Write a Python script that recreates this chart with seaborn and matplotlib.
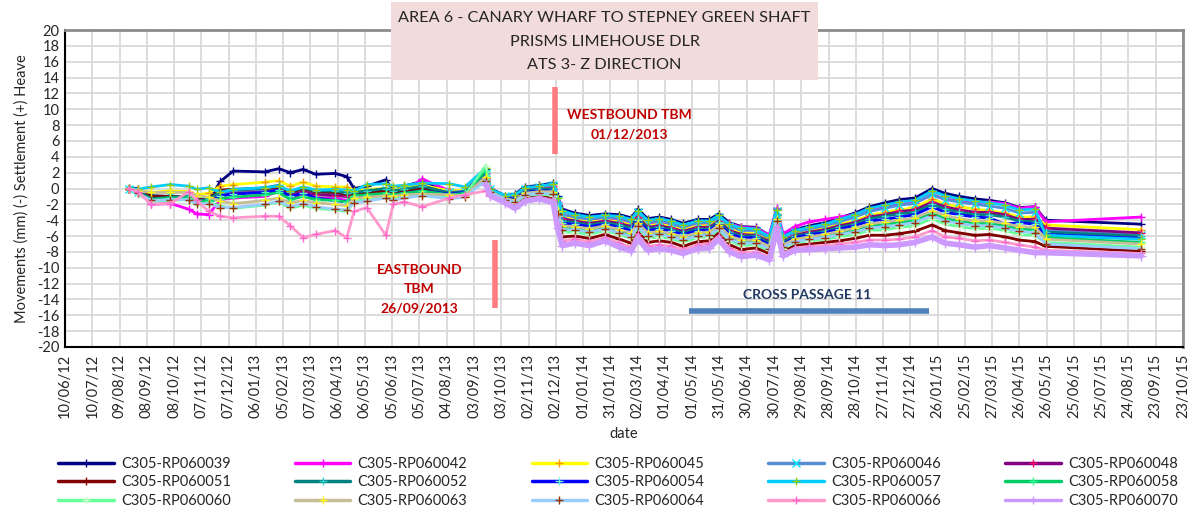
import matplotlib
matplotlib.use("Agg")
import matplotlib.pyplot as plt
from matplotlib.lines import Line2D
from matplotlib.patches import Rectangle
import numpy as np
import pandas as pd
import seaborn as sns

nan = np.nan

# Survey dates: sparse manual readings, then the automatic (ATS) period, then the last reading
DATES = [
    "2012-08-19", "2012-08-29", "2012-09-13", "2012-10-04", "2012-10-24", "2012-11-02",
    "2012-11-15", "2012-11-28", "2012-12-12", "2013-01-16", "2013-01-31", "2013-02-13",
    "2013-02-27", "2013-03-13", "2013-04-03", "2013-04-16", "2013-04-24", "2013-05-08",
    "2013-05-29", "2013-06-06", "2013-06-18", "2013-07-08", "2013-08-07", "2013-08-24",
    "2013-09-16",
    "2013-09-21", "2013-10-07", "2013-10-18", "2013-10-29", "2013-11-14", "2013-11-29",
    "2013-12-04", "2013-12-09", "2013-12-23", "2014-01-08", "2014-01-25", "2014-02-10",
    "2014-02-23", "2014-03-02", "2014-03-13", "2014-03-26", "2014-04-08", "2014-04-21",
    "2014-05-07", "2014-05-20", "2014-05-30", "2014-06-11", "2014-06-24", "2014-07-10",
    "2014-07-25", "2014-08-02", "2014-08-09", "2014-08-22", "2014-09-07", "2014-09-24",
    "2014-10-10", "2014-10-27", "2014-11-12", "2014-11-29", "2014-12-15", "2015-01-01",
    "2015-01-20", "2015-02-03", "2015-02-19", "2015-03-08", "2015-03-24", "2015-04-10",
    "2015-04-26", "2015-05-13", "2015-05-25", "2015-09-07",
]

# Vertical movement of each prism (mm)
RP060039 = [0.1, 0.0, -0.9, -1.0, -1.2, -1.6, -1.5, 0.9, 2.2, 2.1, 2.5, 2.0, 2.4, 1.8, 1.9, 1.5, 0.0, 0.3, 1.1, -0.3, 0.3, 0.9, -0.3, -0.4, 2.4,
            0.0, -0.9, -0.7, 0.2, 0.4, 0.7, -1.0, -2.6, -3.1, -3.4, -3.2, -3.3, -3.7, -2.6, -3.8, -3.6, -3.9, -4.4, -3.9, -3.9, -3.2, -4.3, -4.8,
            -4.9, -5.9, -2.6, -6.0, -5.2, -4.7, -4.3, -3.7, -3.1, -2.3, -1.8, -1.4, -1.2, 0.0, -0.6, -1.0, -1.3, -1.5, -1.8, -2.4, -2.3, -4.0, -4.5]
RP060042 = [0.0, -0.3, -2.0, -1.9, -2.6, -3.2, -3.3, -1.4, -1.2, -1.0, -0.3, -1.2, -0.7, -1.3, -1.2, -1.5, -0.9, -0.8, -0.5, -0.6, -0.3, 1.2, -0.3, -0.4, 2.0,
            -0.2, -1.1, -1.0, -0.1, 0.1, 0.3, -1.7, -3.4, -3.8, -4.1, -3.8, -4.0, -4.5, -3.3, -4.5, -4.3, -4.6, -5.1, -4.6, -4.6, -3.8, -4.4, -4.9,
            -5.0, -5.9, -2.5, -5.7, -4.8, -4.2, -3.9, -3.6, -3.3, -2.6, -2.3, -2.0, -1.8, -0.8, -1.3, -1.6, -1.8, -1.7, -1.9, -2.5, -2.3, -4.2, -3.6]
RP060045 = [0.0, -0.2, -0.5, -0.3, -0.4, -0.8, -0.6, 0.3, 0.5, 0.8, 1.0, 0.3, 0.8, 0.3, 0.2, 0.2, -0.3, -0.1, 0.0, -0.2, 0.1, 0.4, -0.3, -0.2, 1.6,
            -0.2, -1.1, -1.1, -0.2, 0.0, 0.2, -1.9, -3.6, -3.9, -4.2, -4.0, -4.2, -4.6, -3.4, -4.7, -4.5, -4.8, -5.2, -4.7, -4.7, -3.9, -5.1, -5.6,
            -5.7, -6.6, -3.2, -6.5, -5.8, -5.4, -5.0, -4.5, -4.1, -3.4, -3.0, -2.7, -2.4, -1.3, -2.0, -2.3, -2.6, -2.8, -3.1, -3.6, -3.6, -4.6, -5.2]
RP060046 = [0.0, -0.4, -1.2, -1.0, -1.1, -1.5, -1.4, -0.6, -0.4, -0.2, 0.0, -0.6, -0.2, -0.5, -0.6, -0.7, -0.6, -0.4, -0.2, -0.4, -0.2, 0.1, -0.5, -0.3, 1.9,
            -0.1, -1.0, -0.9, 0.0, 0.2, 0.4, -1.5, -3.2, -3.6, -3.9, -3.6, -3.8, -4.2, -3.0, -4.3, -4.1, -4.4, -4.9, -4.3, -4.3, -3.6, -4.7, -5.3,
            -5.3, -6.3, -2.9, -6.3, -5.5, -5.1, -4.7, -4.2, -3.6, -2.9, -2.5, -2.1, -1.9, -0.7, -1.4, -1.7, -2.0, -2.2, -2.5, -3.1, -3.0, -5.3, -5.9]
RP060048 = [0.0, -0.5, -1.3, -1.2, -1.3, -1.4, -1.5, -1.0, -0.6, -0.5, -0.1, -0.9, -0.4, -0.8, -0.9, -1.0, -0.8, -0.6, -0.3, -0.6, -0.4, 0.3, -0.6, -0.5, 1.3,
            -0.2, -1.1, -1.2, -0.3, -0.1, 0.0, -2.1, -3.8, -4.1, -4.4, -4.1, -4.4, -4.8, -3.6, -4.9, -4.7, -5.0, -5.4, -4.9, -4.9, -4.1, -5.3, -5.8,
            -5.9, -6.7, -3.3, -6.7, -5.9, -5.5, -5.2, -4.7, -4.3, -3.6, -3.3, -2.9, -2.7, -1.7, -2.3, -2.7, -3.0, -3.0, -3.3, -3.9, -3.9, -5.0, -5.6]
RP060051 = [0.0, -0.3, -1.0, -1.0, -1.1, -1.4, -1.3, -0.2, -0.1, 0.0, 0.2, -0.5, 0.0, -0.4, -0.5, -0.7, -0.8, -0.5, -0.3, -0.6, -0.3, 0.0, -0.6, -0.5, 1.2,
            -0.7, -1.6, -2.1, -1.2, -0.9, -1.2, -4.0, -6.1, -6.0, -6.3, -5.8, -6.4, -6.9, -5.4, -6.8, -6.6, -6.8, -7.3, -6.7, -6.6, -5.6, -7.1, -7.7,
            -7.5, -8.2, -4.6, -7.9, -7.2, -7.0, -6.8, -6.6, -6.3, -5.9, -5.9, -5.7, -5.4, -4.6, -5.3, -5.6, -5.9, -5.8, -6.1, -6.5, -6.7, -7.3, -7.9]
RP060052 = [0.0, -0.3, -1.3, -1.1, -1.0, -1.6, -1.3, -0.4, -0.2, 0.1, 0.4, -0.4, 0.1, -0.3, -0.3, -0.6, -0.5, -0.3, 0.0, -0.3, -0.1, 0.3, -0.6, -0.4, 1.8,
            -0.3, -1.2, -1.3, -0.4, -0.1, -0.1, -2.3, -4.1, -4.3, -4.6, -4.3, -4.6, -5.0, -3.8, -5.1, -4.9, -5.2, -5.6, -5.1, -5.1, -4.2, -5.5, -6.0,
            -6.0, -6.9, -3.4, -6.8, -6.0, -5.7, -5.4, -4.9, -4.5, -3.8, -3.5, -3.2, -3.0, -2.0, -2.6, -3.0, -3.3, -3.3, -3.6, -4.1, -4.2, -5.5, -6.0]
RP060054 = [0.0, -0.5, -1.5, -1.3, -1.3, -1.8, -1.9, -0.9, -0.7, -0.5, -0.2, -1.0, -0.6, -1.2, -1.5, -1.7, -1.0, -0.9, -0.7, -0.8, -0.6, -0.3, -0.7, -0.5, 2.1,
            -0.3, -1.2, -1.4, -0.5, -0.3, -0.3, -2.5, -4.4, -4.5, -4.8, -4.5, -4.9, -5.3, -4.0, -5.3, -5.1, -5.4, -5.8, -5.3, -5.3, -4.4, -5.7, -6.2,
            -6.2, -7.1, -3.6, -7.0, -6.2, -5.8, -5.6, -5.1, -4.7, -4.1, -3.9, -3.6, -3.3, -2.3, -3.0, -3.3, -3.6, -3.7, -4.5, -4.3, -4.5, -5.8, -6.3]
RP060057 = [0.1, -0.1, 0.2, 0.5, 0.3, -0.1, 0.1, -0.5, -0.1, 0.1, 0.3, -0.3, 0.2, -0.2, -0.1, -0.2, -0.3, 0.5, 0.6, 0.3, 0.4, 0.7, 0.6, 0.2, 2.6,
            -0.1, -0.9, -0.8, 0.1, 0.3, 0.6, -1.2, -2.8, -3.3, -3.6, -3.4, -3.5, -3.9, -2.8, -4.0, -3.8, -4.1, -4.6, -4.1, -4.1, -3.4, -4.5, -5.0,
            -5.1, -6.1, -2.7, -6.1, -5.3, -4.9, -4.5, -3.9, -3.3, -2.5, -2.1, -1.7, -1.5, -0.3, -0.9, -1.3, -1.6, -1.8, -2.1, -2.7, -2.6, -5.9, -6.4]
RP060058 = [0.0, -0.6, -1.4, -1.2, -1.2, -1.7, -1.6, -1.3, -1.1, -0.8, -0.5, -1.4, -1.0, -1.4, -1.5, -1.7, -0.9, -0.8, -0.6, -0.8, -0.6, -0.3, -0.8, -0.6, 2.2,
            -0.4, -1.4, -1.6, -0.7, -0.5, -0.6, -3.0, -4.9, -5.0, -5.3, -4.9, -5.4, -5.8, -4.5, -5.8, -5.6, -5.9, -6.3, -5.8, -5.7, -4.8, -6.2, -6.7,
            -6.7, -7.5, -3.9, -7.3, -6.5, -6.2, -6.0, -5.6, -5.3, -4.7, -4.5, -4.3, -4.0, -3.1, -3.8, -4.1, -4.4, -4.4, -4.7, -5.1, -5.2, -6.2, -6.8]
RP060060 = [0.0, -0.7, -1.6, -1.5, -1.4, -2.0, -1.8, -2.2, -2.5, -2.1, -1.7, -2.5, -2.1, -2.5, -2.7, -2.9, -1.6, -1.4, -1.0, -1.3, -1.0, -0.7, -1.1, -0.9, 2.9,
            -0.6, -1.5, -1.8, -0.9, -0.7, -0.9, -3.5, -5.5, -5.5, -5.8, -5.3, -5.8, -6.3, -4.9, -6.3, -6.1, -6.3, -6.8, -6.2, -6.1, -5.2, -6.6, -7.2,
            -7.1, -7.8, -4.2, -7.6, -6.8, -6.6, -6.4, -6.1, -5.8, -5.3, -5.2, -4.9, -4.7, -3.8, -4.5, -4.8, -5.1, -5.0, -5.3, -5.8, -5.9, -6.8, -7.4]
RP060063 = [0.0, -0.3, -0.5, -0.5, -0.5, -0.9, -1.1, -1.6, -1.9, -1.5, -1.2, -1.8, -1.5, -1.8, -2.0, -2.2, -1.2, -1.1, -0.9, -1.0, -0.8, -0.7, -0.8, -0.9, 1.5,
            -0.4, -1.3, -1.5, -0.6, -0.4, -0.4, -2.8, -4.7, -4.8, -5.1, -4.7, -5.2, -5.6, -4.3, -5.6, -5.4, -5.7, -6.1, -5.6, -5.5, -4.6, -6.0, -6.5,
            -6.5, -7.3, -3.8, -7.1, -6.4, -6.1, -5.8, -5.4, -5.0, -4.5, -4.2, -4.0, -3.7, -2.8, -3.4, -3.8, -4.1, -4.1, -4.4, -4.8, -4.9, -6.4, -7.0]
RP060064 = [0.0, -0.6, -1.5, -1.4, -1.4, -1.9, -1.9, -2.4, -2.4, -2.0, -1.6, -2.3, -1.9, -2.3, -2.6, -2.7, -1.8, -1.6, -1.2, -1.5, -1.2, -0.9, -1.3, -1.1, 1.0,
            -0.5, -1.4, -1.7, -0.8, -0.6, -0.7, -3.2, -5.2, -5.2, -5.5, -5.1, -5.6, -6.1, -4.7, -6.0, -5.8, -6.1, -6.5, -6.0, -5.9, -5.0, -6.4, -6.9,
            -6.9, -7.6, -4.1, -7.4, -6.7, -6.4, -6.2, -5.8, -5.5, -5.0, -4.8, -4.6, -4.3, -3.4, -4.1, -4.4, -4.7, -4.7, -5.0, -5.4, -5.6, -7.0, -7.6]
RP060066 = [0.0, -0.4, -2.0, -1.9, -0.4, -1.5, -2.9, -3.5, -3.7, -3.5, -3.5, -4.7, -6.2, -5.8, -5.3, -6.2, -2.9, -2.4, -5.9, -2.0, -1.7, -2.3, -1.2, -0.8, -0.3,
            -0.8, -1.7, -2.3, -1.4, -1.1, -1.5, -4.5, -6.6, -6.4, -6.7, -6.2, -6.9, -7.4, -5.8, -7.3, -7.1, -7.3, -7.7, -7.1, -7.0, -6.0, -7.5, -8.1,
            -8.0, -8.6, -4.9, -8.2, -7.5, -7.3, -7.2, -7.0, -6.8, -6.5, -6.5, -6.4, -6.1, -5.3, -6.1, -6.3, -6.6, -6.5, -6.8, -7.1, -7.4, -7.8, -8.2]
RP060070 = [nan, nan, nan, nan, nan, nan, nan, nan, nan, nan, nan, nan, nan, nan, nan, nan, nan, nan, nan, nan, nan, nan, nan, nan, 0.5,
            -0.9, -1.8, -2.5, -1.6, -1.3, -1.8, -5.0, -7.2, -6.9, -7.2, -6.6, -7.4, -7.9, -6.3, -7.8, -7.6, -7.8, -8.2, -7.6, -7.5, -6.4, -8.0, -8.6,
            -8.4, -9.0, -5.2, -8.5, -7.8, -7.7, -7.6, -7.5, -7.4, -7.1, -7.2, -7.1, -6.8, -6.1, -6.9, -7.1, -7.4, -7.2, -7.5, -7.8, -8.1, -8.1, -8.5]

NAMES = ["C305-RP060039", "C305-RP060042", "C305-RP060045", "C305-RP060046", "C305-RP060048",
         "C305-RP060051", "C305-RP060052", "C305-RP060054", "C305-RP060057", "C305-RP060058",
         "C305-RP060060", "C305-RP060063", "C305-RP060064", "C305-RP060066", "C305-RP060070"]
VALUES = [RP060039, RP060042, RP060045, RP060046, RP060048,
          RP060051, RP060052, RP060054, RP060057, RP060058,
          RP060060, RP060063, RP060064, RP060066, RP060070]

# line colour, marker, marker colour
STYLES = [
    ("#000080", "+", "#000080"),
    ("#ff00ff", "+", "#ff00ff"),
    ("#ffff00", "+", "#ff9900"),
    ("#558ed5", "x", "#00e5ff"),
    ("#800080", "+", "#ff0066"),
    ("#800000", "+", "#800000"),
    ("#008080", "+", "#33cccc"),
    ("#0000ff", "+", "#66ffcc"),
    ("#00ccff", "+", "#99cc00"),
    ("#00cc66", "+", "#33ff99"),
    ("#66ff99", "+", "#ccffcc"),
    ("#c4bd97", "+", "#ffff00"),
    ("#99ccff", "+", "#993300"),
    ("#ff99cc", "+", "#ff66cc"),
    ("#cc99ff", "+", "#cc99ff"),
]

TITLE_LINES = ["AREA 6 - CANARY WHARF TO STEPNEY GREEN SHAFT",
               "PRISMS LIMEHOUSE DLR",
               "ATS 3- Z DIRECTION"]

WB_DATE, WB_SPAN = "2013-12-01", (4.4, 12.8)
EB_DATE, EB_SPAN = "2013-09-26", (-15.1, -6.5)
CP_SPAN, CP_LEVEL = ("2014-04-28", "2015-01-17"), -15.5

sns.set_theme(style="white")
plt.rcParams["font.family"] = ["Lato", "DejaVu Sans"]

W, H = 1198, 508
fig = plt.figure(figsize=(W / 100, H / 100), dpi=100)
ax = fig.add_axes([65 / W, 1 - 347 / H, (1183 - 65) / W, (347 - 30) / H])

dates = pd.to_datetime(DATES)
for k, (vals, (lc, mk, mc)) in enumerate(zip(VALUES, STYLES)):
    heavy = k == len(VALUES) - 1
    sns.lineplot(x=dates, y=vals, ax=ax, color=lc, lw=4.0 if heavy else 2.0, marker=mk,
                 markersize=7 if heavy else 6, markeredgecolor=mc, markeredgewidth=1.0,
                 estimator=None, sort=False, legend=False, zorder=3)

# axes, ticks and grid
x0, x1 = pd.Timestamp("2012-06-10"), pd.Timestamp("2015-10-23")
ax.set_xlim(x0, x1)
ax.set_ylim(-20, 20)
xt = pd.date_range(x0, x1, freq="30D")
ax.set_xticks(xt)
ax.set_xticklabels([d.strftime("%d/%m/%y") for d in xt], rotation=90, fontsize=10.5)
ax.set_yticks(np.arange(-20, 21, 2))
ax.set_yticklabels([str(v) for v in range(-20, 21, 2)], fontsize=10.5)
ax.grid(True, color="#d9d9d9", lw=1.3, zorder=0)
ax.set_axisbelow(True)
ax.tick_params(axis="x", direction="in", length=4, width=1, color="black", pad=5)
ax.tick_params(axis="y", length=0, pad=4)
for side in ("left", "bottom"):
    ax.spines[side].set_color("black")
    ax.spines[side].set_linewidth(1.5)
for side in ("top", "right"):
    ax.spines[side].set_color("#8c8c8c")
    ax.spines[side].set_linewidth(2)
ax.set_xlabel("date", fontsize=10.5, labelpad=6)
ax.set_ylabel("Movements (mm) (-) Settlement (+) Heave", fontsize=10.5, labelpad=6)

# TBM and cross passage annotations
wb = pd.Timestamp(WB_DATE)
ax.plot([wb, wb], WB_SPAN, color="#ff7c80", lw=4, solid_capstyle="butt", zorder=4)
ax.text(pd.Timestamp("2014-02-21"), 9.3, "WESTBOUND TBM", color="#c00000",
        fontsize=10, fontweight="bold", ha="center", va="center")
ax.text(pd.Timestamp("2014-02-21"), 6.8, "01/12/2013", color="#c00000",
        fontsize=10, fontweight="bold", ha="center", va="center")
eb = pd.Timestamp(EB_DATE)
ax.plot([eb, eb], EB_SPAN, color="#ff7c80", lw=4, solid_capstyle="butt", zorder=4)
for yv, txt in zip((-10.3, -12.7, -15.1), ("EASTBOUND", "TBM", "26/09/2013")):
    ax.text(pd.Timestamp("2013-07-05"), yv, txt, color="#c00000",
            fontsize=10, fontweight="bold", ha="center", va="center")
ax.plot(pd.to_datetime(list(CP_SPAN)), [CP_LEVEL, CP_LEVEL], color="#4f81bd",
        lw=4, solid_capstyle="butt", zorder=4)
ax.text(pd.Timestamp("2014-09-05"), -13.4, "CROSS PASSAGE 11", color="#1f3864",
        fontsize=10, fontweight="bold", ha="center", va="center")

# title box
fig.patches.append(Rectangle((391 / W, 1 - 80 / H), (818 - 391) / W, 78 / H,
                             transform=fig.transFigure, facecolor="#f2dcdb",
                             edgecolor="none", zorder=5))
for py, line in zip((18, 42, 65), TITLE_LINES):
    fig.text(604.5 / W, 1 - py / H, line, ha="center", va="center",
             fontsize=11.7, color="#262626", zorder=6)

# legend, filled row by row
order = [0, 5, 10, 1, 6, 11, 2, 7, 12, 3, 8, 13, 4, 9, 14]
handles = [Line2D([], [], color=STYLES[i][0], lw=2.5, marker=STYLES[i][1], markersize=6,
                  markeredgecolor=STYLES[i][2], markeredgewidth=1.0) for i in order]
labels = [NAMES[i] for i in order]
fig.legend(handles, labels, ncol=5, loc="upper left", bbox_to_anchor=(45 / W, 1 - 444 / H),
           frameon=False, fontsize=10.5, handlelength=3.8, handletextpad=0.5,
           columnspacing=4.4, labelspacing=0.3, numpoints=1)

fig.savefig("out.png", dpi=100)
